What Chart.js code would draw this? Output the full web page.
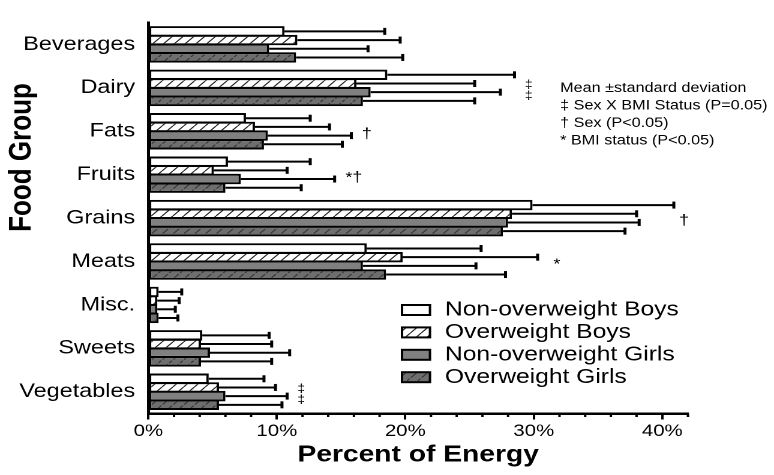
<!DOCTYPE html>
<html lang="en">
<head>
  <meta charset="UTF-8">
  <title>Percent of Energy by Food Group</title>
  <style>
    html, body {
      margin: 0;
      padding: 0;
      background: #fff;
      overflow: hidden;
    }
    /* the source figure is stretched sideways, so the chart is drawn narrow and widened */
    .wrap {
      position: absolute;
      left: 0;
      top: 0;
      width: 645px;
      height: 475px;
      transform: scaleX(1.2);
      transform-origin: 0 0;
    }
  </style>
  <script src="https://cdn.jsdelivr.net/npm/chart.js"></script>
</head>
<body>
  <div class="wrap"><canvas id="energyChart"></canvas></div>

  <script>
    const foodGroups = ['Beverages', 'Dairy', 'Fats', 'Fruits', 'Grains', 'Meats', 'Misc.', 'Sweets', 'Vegetables'];
    const seriesNames = ['Non-overweight Boys', 'Overweight Boys', 'Non-overweight Girls', 'Overweight Girls'];

    // mean percent of energy
    const nonOverweightBoys  = [10.6, 18.6, 7.6, 6.2, 29.9, 17.0, 0.8, 4.2, 4.7];
    const overweightBoys     = [11.6, 16.2, 8.3, 5.1, 28.3, 19.8, 0.7, 4.1, 5.5];
    const nonOverweightGirls = [9.4, 17.3, 9.3, 7.2, 28.0, 16.7, 0.7, 4.8, 6.0];
    const overweightGirls    = [11.5, 16.7, 9.0, 6.0, 27.6, 18.5, 0.8, 4.1, 5.5];

    // standard deviations
    const sdNonOverweightBoys  = [7.8, 9.9, 5.0, 6.4, 11.0, 8.9, 1.8, 5.2, 4.3];
    const sdOverweightBoys     = [8.0, 9.2, 5.8, 5.7, 9.7, 10.5, 1.7, 5.5, 4.4];
    const sdNonOverweightGirls = [7.7, 10.1, 6.5, 7.3, 10.2, 8.8, 1.4, 6.2, 4.8];
    const sdOverweightGirls    = [8.3, 8.7, 6.1, 5.9, 9.5, 9.3, 1.5, 5.5, 4.9];

    // significance marks
    const markGroups  = ['Dairy', 'Fats', 'Fruits', 'Grains', 'Meats', 'Vegetables'];
    const markValues  = [29.6, 17.0, 16.0, 41.7, 31.8, 11.9];
    const markSymbols = ['‡\n‡', '†', '*†', '†', '*', '‡\n‡'];

    const noteLines = [
      'Mean \u00B1standard deviation',
      '‡ Sex X BMI Status (P=0.05)',
      '† Sex (P<0.05)',
      '* BMI status (P<0.05)'
    ];

    const FONT = "'Liberation Sans', Arial, Helvetica, sans-serif";
    Chart.defaults.font.family = FONT;
    Chart.defaults.color = '#000';

    // diagonal hatch fills (tile drawn at 2x, pattern scaled back)
    function hatch(bg, line, dashed) {
      const size = 18;
      const c = document.createElement('canvas');
      c.width = size;
      c.height = size;
      const g = c.getContext('2d');
      g.fillStyle = bg;
      g.fillRect(0, 0, size, size);
      g.strokeStyle = line;
      g.lineWidth = 2;
      g.beginPath();
      for (let k = -1; k <= 1; k++) {
        const x0 = k * size, y0 = size;
        if (dashed) {
          g.moveTo(x0 + size * 0.05, y0 - size * 0.05);
          g.lineTo(x0 + size * 0.55, y0 - size * 0.55);
          g.moveTo(x0 + size * 0.68, y0 - size * 0.68);
          g.lineTo(x0 + size * 0.92, y0 - size * 0.92);
        } else {
          g.moveTo(x0, y0);
          g.lineTo(x0 + size, 0);
        }
      }
      g.stroke();
      const p = g.createPattern(c, 'repeat');
      p.setTransform(new DOMMatrix().scale(0.5));
      return p;
    }

    const fills = [
      '#ffffff',
      hatch('#ffffff', '#222222', false),
      '#808080',
      hatch('#6e6e6e', '#333333', true)
    ];

    const errorBars = {
      id: 'errorBars',
      afterDatasetsDraw(chart) {
        const ctx = chart.ctx;
        const x = chart.scales.x;
        ctx.save();
        ctx.strokeStyle = '#000';
        chart.data.datasets.forEach((ds, i) => {
          chart.getDatasetMeta(i).data.forEach((bar, j) => {
            const end = x.getPixelForValue(ds.data[j] + ds.sd[j]);
            ctx.lineWidth = 2;
            ctx.beginPath();
            ctx.moveTo(bar.x, bar.y);
            ctx.lineTo(end, bar.y);
            ctx.stroke();
            ctx.lineWidth = 2.5;
            ctx.beginPath();
            ctx.moveTo(end, bar.y - 3.5);
            ctx.lineTo(end, bar.y + 3.5);
            ctx.stroke();
          });
        });
        ctx.restore();
      }
    };

    const extras = {
      id: 'extras',
      afterDraw(chart) {
        const ctx = chart.ctx;
        const x = chart.scales.x;
        const y = chart.scales.y;
        ctx.save();

        // minor ticks every 2%
        ctx.strokeStyle = '#000';
        ctx.lineWidth = 2;
        for (let v = 2; v <= 42; v += 2) {
          if (v % 10 === 0) continue;
          const px = x.getPixelForValue(v);
          ctx.beginPath();
          ctx.moveTo(px, x.top);
          ctx.lineTo(px, x.top + 3.5);
          ctx.stroke();
        }

        // y title
        ctx.fillStyle = '#000';
        ctx.save();
        ctx.translate(18.3, 157.5);
        ctx.rotate(-Math.PI / 2);
        ctx.font = 'bold 26px ' + FONT;
        ctx.textAlign = 'center';
        ctx.textBaseline = 'middle';
        ctx.fillText('Food Group', 0, 0);
        ctx.restore();

        // significance marks
        ctx.textAlign = 'center';
        ctx.textBaseline = 'middle';
        markGroups.forEach((grp, i) => {
          const px = x.getPixelForValue(markValues[i]);
          const py = y.getPixelForValue(foodGroups.indexOf(grp)) + 3;
          const lines = markSymbols[i].split('\n');
          ctx.font = (lines.length > 1 ? '11.5px ' : '15px ') + FONT;
          lines.forEach((t, k) => {
            ctx.fillText(t, px, py + (k - (lines.length - 1) / 2) * 11);
          });
        });

        // notes
        ctx.font = '13.5px ' + FONT;
        ctx.textAlign = 'left';
        noteLines.forEach((t, k) => {
          ctx.fillText(t, 466.7, 88.3 + k * 17.5);
        });

        // legend
        ctx.font = '20.5px ' + FONT;
        chart.data.datasets.forEach((ds, k) => {
          const cy = 310 + k * 22.4;
          ctx.fillStyle = ds.backgroundColor;
          ctx.fillRect(335, cy - 5, 23.3, 10);
          ctx.lineWidth = 2;
          ctx.strokeStyle = '#000';
          ctx.strokeRect(335, cy - 5, 23.3, 10);
          ctx.fillStyle = '#000';
          ctx.fillText(ds.label, 370.8, cy);
        });

        ctx.restore();
      }
    };

    const means = [nonOverweightBoys, overweightBoys, nonOverweightGirls, overweightGirls];
    const sds = [sdNonOverweightBoys, sdOverweightBoys, sdNonOverweightGirls, sdOverweightGirls];

    const ctx = document.getElementById('energyChart').getContext('2d');
    const energyChart = new Chart(ctx, {
      type: 'bar',
      data: {
        labels: foodGroups,
        datasets: seriesNames.map((name, i) => ({
          label: name,
          data: means[i],
          sd: sds[i],
          backgroundColor: fills[i],
          borderColor: '#000',
          borderWidth: 2,
          borderSkipped: false,
          categoryPercentage: 0.8,
          barPercentage: 1.2
        }))
      },
      options: {
        indexAxis: 'y',
        responsive: true,
        maintainAspectRatio: false,
        animation: false,
        devicePixelRatio: 2,
        layout: {
          padding: { top: 7, right: 71.7, bottom: 0, left: 0 }
        },
        plugins: {
          legend: { display: false },
          tooltip: { enabled: false }
        },
        scales: {
          x: {
            type: 'linear',
            min: 0,
            max: 42,
            ticks: {
              stepSize: 10,
              includeBounds: false,
              maxRotation: 0,
              padding: 1.5,
              font: { size: 17 },
              callback: v => v + '%'
            },
            grid: {
              display: true,
              drawOnChartArea: false,
              tickLength: 6,
              tickColor: '#000',
              tickWidth: 2
            },
            border: { display: true, color: '#000', width: 2.5 },
            title: {
              display: true,
              text: 'Percent of Energy',
              font: { size: 23.5, weight: 'bold' },
              padding: { top: 0, bottom: 6 }
            },
            afterFit: s => { s.height = 61.5; }
          },
          y: {
            ticks: {
              autoSkip: false,
              padding: 11,
              font: { size: 19.5 }
            },
            grid: { display: false, drawTicks: false },
            border: { display: true, color: '#000', width: 2.5 },
            afterFit: s => { s.width = 123.6; }
          }
        }
      },
      plugins: [errorBars, extras]
    });
  </script>
</body>
</html>
